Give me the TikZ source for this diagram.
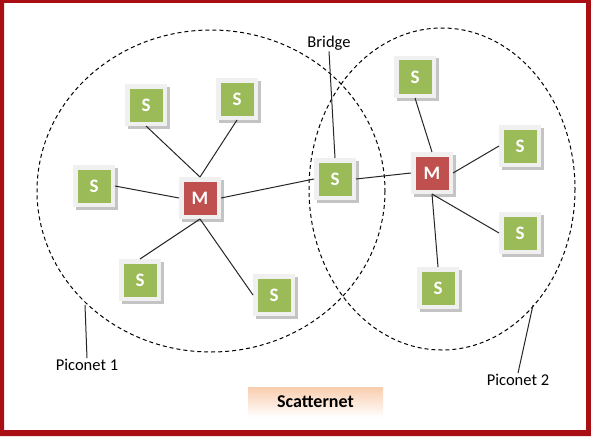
\documentclass[tikz,border=0pt]{standalone}
\usepackage{fontspec}
\setmainfont{Carlito}
\usetikzlibrary{shadows}
\definecolor{sgreen}{HTML}{9BBB59}
\definecolor{mred}{HTML}{C0504D}
\definecolor{framegray}{HTML}{F0F0F0}
\definecolor{shadowgray}{HTML}{C4C4C4}
\definecolor{borderred}{HTML}{A80E14}
\definecolor{peach}{HTML}{F9CDAE}
\begin{document}
\begin{tikzpicture}[x=1pt,y=-1pt,
  unit/.style={rectangle, minimum size=37.5pt, inner sep=0pt, line width=4.5pt,
    draw=framegray, text=white, font=\bfseries\fontsize{19}{19}\selectfont,
    general shadow={draw=shadowgray, fill=shadowgray, line width=4.5pt,
      shadow xshift=2.5pt, shadow yshift=-2.5pt}},
  snode/.style={unit, fill=sgreen},
  mnode/.style={unit, fill=mred},
  link/.style={line width=1pt, black!85},
  net/.style={dash pattern=on 4pt off 3pt, line width=1pt},
  lbl/.style={font=\fontsize{16.5}{17}\selectfont, inner sep=1pt}
]
\useasboundingbox (0,0) rectangle (591,436);
\fill[white] (0,0) rectangle (591,436);
\fill[borderred, even odd rule] (0,0) rectangle (591,436) (4,3) rectangle (586,430);

% piconets
\draw[net] (211,191) ellipse [x radius=174, y radius=161];
\draw[net] (442,189) ellipse [x radius=133, y radius=161];

% nodes
\node[snode] (s1) at (146,105) {S};
\node[snode] (s2) at (237,99) {S};
\node[snode] (s3) at (94,186) {S};
\node[mnode] (m1) at (200,198) {M};
\node[snode] (s4) at (140,280) {S};
\node[snode] (s5) at (274,295) {S};
\node[snode] (b) at (335,179) {S};
\node[mnode] (m2) at (432,173) {M};
\node[snode] (s6) at (415,77) {S};
\node[snode] (s7) at (520,146) {S};
\node[snode] (s8) at (520,233) {S};
\node[snode] (s9) at (438,288) {S};

% links
\draw[link] (s1.south) -- (m1.north);
\draw[link] (s2.south) -- (m1.north);
\draw[link] (s3.east) -- (m1.west);
\draw[link] (m1.south) -- (s4.north);
\draw[link] (m1.south) -- (s5.west);
\draw[link] (m1.east) -- (b.west);
\draw[link] (b.east) -- (m2.west);
\draw[link] (s6.south) -- (m2.north);
\draw[link] (m2.east) -- (s7.west);
\draw[link] (m2.south) -- (s8.west);
\draw[link] (m2.south) -- (s9.north);

% labels
\node[lbl] (bl) at (329,43) {Bridge};
\draw[link] (bl.south) -- (b.north);
\node[lbl] (p1l) at (87,365) {Piconet 1};
\coordinate (p1) at (85,305);
\draw[link] (p1l.north) -- (p1);
\node[lbl] (p2l) at (518,380) {Piconet 2};
\coordinate (p2) at (533,305);
\draw[link] (p2l.north) -- (p2);

% title
\node[top color=peach, bottom color=white, minimum width=135pt, minimum height=30pt,
  font=\bfseries\fontsize{18}{18}\selectfont] (title) at (315.5,402) {Scatternet};
\end{tikzpicture}
\end{document}
